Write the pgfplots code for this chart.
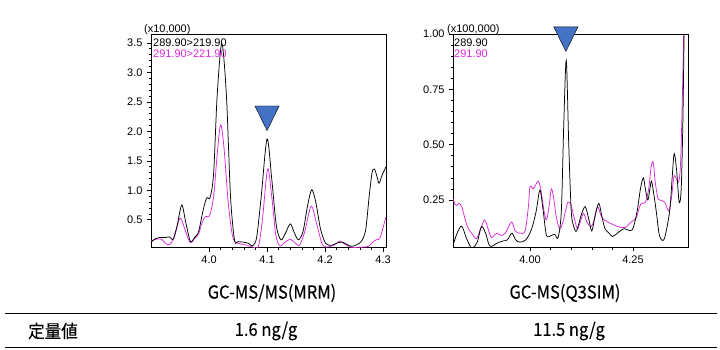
\documentclass[border=0pt]{standalone}
\usepackage{pgfplots}
\pgfplotsset{compat=1.18}
\usepackage{fontspec}
\setmainfont{Liberation Sans}
\newfontfamily\cjk[FakeBold=0.2,FakeStretch=0.92]{Noto Sans CJK JP}
\definecolor{mag}{RGB}{220,40,220}
\definecolor{tri}{RGB}{68,114,196}

\pgfplotstableread{
x y
3.900 0.12
3.908 0.18
3.915 0.20
3.925 0.20
3.932 0.21
3.938 0.17
3.945 0.40
3.953 0.75
3.960 0.45
3.968 0.13
3.975 0.20
3.982 0.30
3.990 0.67
3.996 0.87
4.002 0.88
4.008 1.30
4.014 2.60
4.022 3.49
4.030 2.60
4.037 0.90
4.044 0.15
4.050 0.13
4.060 0.12
4.068 0.10
4.075 0.06
4.082 0.20
4.090 0.90
4.100 1.87
4.108 1.20
4.116 0.40
4.124 0.16
4.132 0.28
4.140 0.43
4.147 0.28
4.154 0.16
4.162 0.30
4.170 0.75
4.177 1.01
4.184 0.80
4.192 0.35
4.201 0.10
4.212 0.07
4.222 0.11
4.230 0.12
4.238 0.08
4.246 0.05
4.255 0.08
4.263 0.14
4.270 0.33
4.276 0.90
4.281 1.30
4.285 1.36
4.289 1.25
4.293 1.12
4.298 1.25
4.305 1.40
}\leftblack

\pgfplotstableread{
x y
3.900 0.14
3.908 0.17
3.918 0.17
3.925 0.10
3.932 0.08
3.940 0.20
3.950 0.53
3.958 0.35
3.967 0.12
3.975 0.18
3.982 0.26
3.988 0.45
3.994 0.56
4.001 0.57
4.008 0.90
4.014 1.60
4.020 2.11
4.026 1.70
4.033 0.80
4.040 0.25
4.046 0.12
4.055 0.09
4.065 0.07
4.075 0.04
4.085 0.05
4.092 0.50
4.101 1.36
4.108 0.90
4.115 0.25
4.122 0.06
4.131 0.12
4.140 0.17
4.148 0.11
4.156 0.07
4.165 0.30
4.176 0.73
4.185 0.45
4.196 0.07
4.210 0.05
4.218 0.09
4.226 0.14
4.235 0.08
4.245 0.035
4.262 0.035
4.275 0.05
4.282 0.12
4.288 0.16
4.294 0.18
4.298 0.30
4.305 0.55
}\leftmag

\pgfplotstableread{
x y
3.813 0.045
3.823 0.10
3.834 0.132
3.845 0.08
3.855 0.04
3.862 0.035
3.872 0.06
3.882 0.13
3.892 0.10
3.900 0.05
3.907 0.04
3.920 0.055
3.935 0.065
3.945 0.07
3.956 0.10
3.965 0.07
3.975 0.06
3.990 0.07
4.004 0.12
4.015 0.20
4.024 0.295
4.032 0.20
4.040 0.09
4.052 0.09
4.060 0.095
4.068 0.08
4.076 0.20
4.082 0.60
4.088 0.88
4.094 0.50
4.100 0.20
4.106 0.13
4.113 0.11
4.124 0.18
4.134 0.22
4.143 0.16
4.150 0.11
4.158 0.18
4.167 0.235
4.175 0.17
4.182 0.12
4.192 0.10
4.200 0.085
4.212 0.10
4.228 0.12
4.248 0.115
4.260 0.20
4.268 0.30
4.275 0.35
4.280 0.30
4.286 0.25
4.291 0.30
4.295 0.335
4.301 0.27
4.307 0.19
4.313 0.10
4.319 0.07
4.327 0.08
4.339 0.20
4.345 0.35
4.350 0.46
4.356 0.38
4.362 0.24
4.367 0.30
4.371 0.60
4.374 1.00
}\rightblack

\pgfplotstableread{
x y
3.813 0.256
3.818 0.23
3.822 0.225
3.828 0.235
3.834 0.22
3.840 0.18
3.848 0.13
3.858 0.10
3.870 0.075
3.880 0.12
3.890 0.16
3.898 0.12
3.906 0.08
3.913 0.09
3.920 0.10
3.930 0.09
3.940 0.10
3.948 0.13
3.956 0.15
3.964 0.11
3.975 0.10
3.988 0.11
3.996 0.22
4.000 0.31
4.008 0.30
4.014 0.32
4.020 0.335
4.026 0.30
4.034 0.20
4.040 0.16
4.046 0.22
4.052 0.30
4.058 0.25
4.064 0.17
4.072 0.12
4.080 0.15
4.086 0.20
4.092 0.24
4.099 0.23
4.107 0.17
4.115 0.12
4.122 0.15
4.130 0.19
4.138 0.15
4.148 0.13
4.156 0.16
4.164 0.22
4.172 0.18
4.180 0.16
4.189 0.15
4.200 0.14
4.213 0.13
4.230 0.125
4.245 0.15
4.258 0.17
4.266 0.22
4.271 0.235
4.280 0.24
4.288 0.30
4.294 0.40
4.299 0.42
4.304 0.33
4.310 0.26
4.315 0.25
4.327 0.24
4.337 0.20
4.344 0.27
4.350 0.36
4.360 0.33
4.365 0.40
4.369 0.65
4.373 1.00
}\rightmag

\pgfplotsset{
  chrom/.style={
    scale only axis,
    anchor=south west,
    axis line style={line width=0.8bp},
    tick align=outside,
    xtick pos=left, ytick pos=left,
    major tick length=4bp,
    minor tick length=2.5bp,
    every tick/.style={black, line width=0.6bp},
    minor tick num=4,
    tick label style={font=\fontsize{11}{13}\selectfont},
    yticklabel style={xshift=-1bp},
    xticklabel style={yshift=-1bp},
  },
  overlay/.style={
    scale only axis, anchor=south west, hide axis, clip=false,
  },
}

\begin{document}
\begin{tikzpicture}
\path[use as bounding box] (0,0) rectangle (720bp,-350bp);

% left chromatogram
\begin{axis}[chrom,
  at={(151bp,-247.5bp)}, width=235bp, height=213.5bp,
  xmin=3.90, xmax=4.305, ymin=0.03, ymax=3.65,
  xtick={4.0,4.1,4.2,4.3}, xticklabels={4.0,4.1,4.2,4.3},
  ytick={0.5,1.0,1.5,2.0,2.5,3.0,3.5},
  yticklabels={0.5,1.0,1.5,2.0,2.5,3.0,3.5},
]
\addplot[mag, line width=0.75bp, smooth, tension=0.5] table {\leftmag};
\addplot[black, line width=0.75bp, smooth, tension=0.5] table {\leftblack};
\end{axis}
\begin{axis}[overlay,
  at={(151bp,-247.5bp)}, width=235bp, height=213.5bp,
  xmin=3.90, xmax=4.305, ymin=0.03, ymax=3.65]
\addplot[only marks, mark=triangle*, mark size=16.5pt,
  mark options={rotate=180, xscale=0.85, fill=tri, draw=none}]
  coordinates {(4.100,2.29)};
\end{axis}

% right chromatogram
\begin{axis}[chrom,
  at={(453bp,-247bp)}, width=235bp, height=213bp,
  xmin=3.813, xmax=4.3835, ymin=0.0375, ymax=1.0,
  xtick={4.00,4.25}, xticklabels={4.00,4.25},
  ytick={0.25,0.5,0.75,1.0},
  yticklabels={0.25,0.50,0.75,1.00},
]
\addplot[mag, line width=0.75bp, smooth, tension=0.5] table {\rightmag};
\addplot[black, line width=0.75bp, smooth, tension=0.5] table {\rightblack};
\end{axis}
\begin{axis}[overlay,
  at={(453bp,-247bp)}, width=235bp, height=213bp,
  xmin=3.813, xmax=4.3835, ymin=0.0375, ymax=1.0]
\addplot[only marks, mark=triangle*, mark size=16.5pt,
  mark options={rotate=180, xscale=0.85, fill=tri, draw=none}]
  coordinates {(4.087,0.995)};
\end{axis}

% annotations
\begin{scope}[every node/.style={inner sep=0pt, anchor=base west, font=\fontsize{11}{13}\selectfont}]
\node at (144bp,-32.5bp) {(x10,000)};
\node at (153bp,-46.5bp) {289.90>219.90};
\node[text=mag] at (153bp,-57.5bp) {291.90>221.90};
\node at (447bp,-32.5bp) {(x100,000)};
\node at (454bp,-46.5bp) {289.90};
\node[text=mag] at (454bp,-57.5bp) {291.90};
\end{scope}

% titles and table
\begin{scope}[every node/.style={inner sep=0pt, font=\cjk\fontsize{18}{21}\selectfont}]
\node at (272bp,-293bp) {GC-MS/MS(MRM)};
\node at (565bp,-293bp) {GC-MS(Q3SIM)};
\node[anchor=west] at (28bp,-331bp) {定量値};
\node at (266bp,-331bp) {1.6 ng/g};
\node at (569bp,-331bp) {11.5 ng/g};
\end{scope}
\draw[line width=1bp] (5bp,-313bp) -- (717bp,-313bp);
\draw[line width=1bp] (5bp,-347bp) -- (717bp,-347bp);
\end{tikzpicture}
\end{document}
